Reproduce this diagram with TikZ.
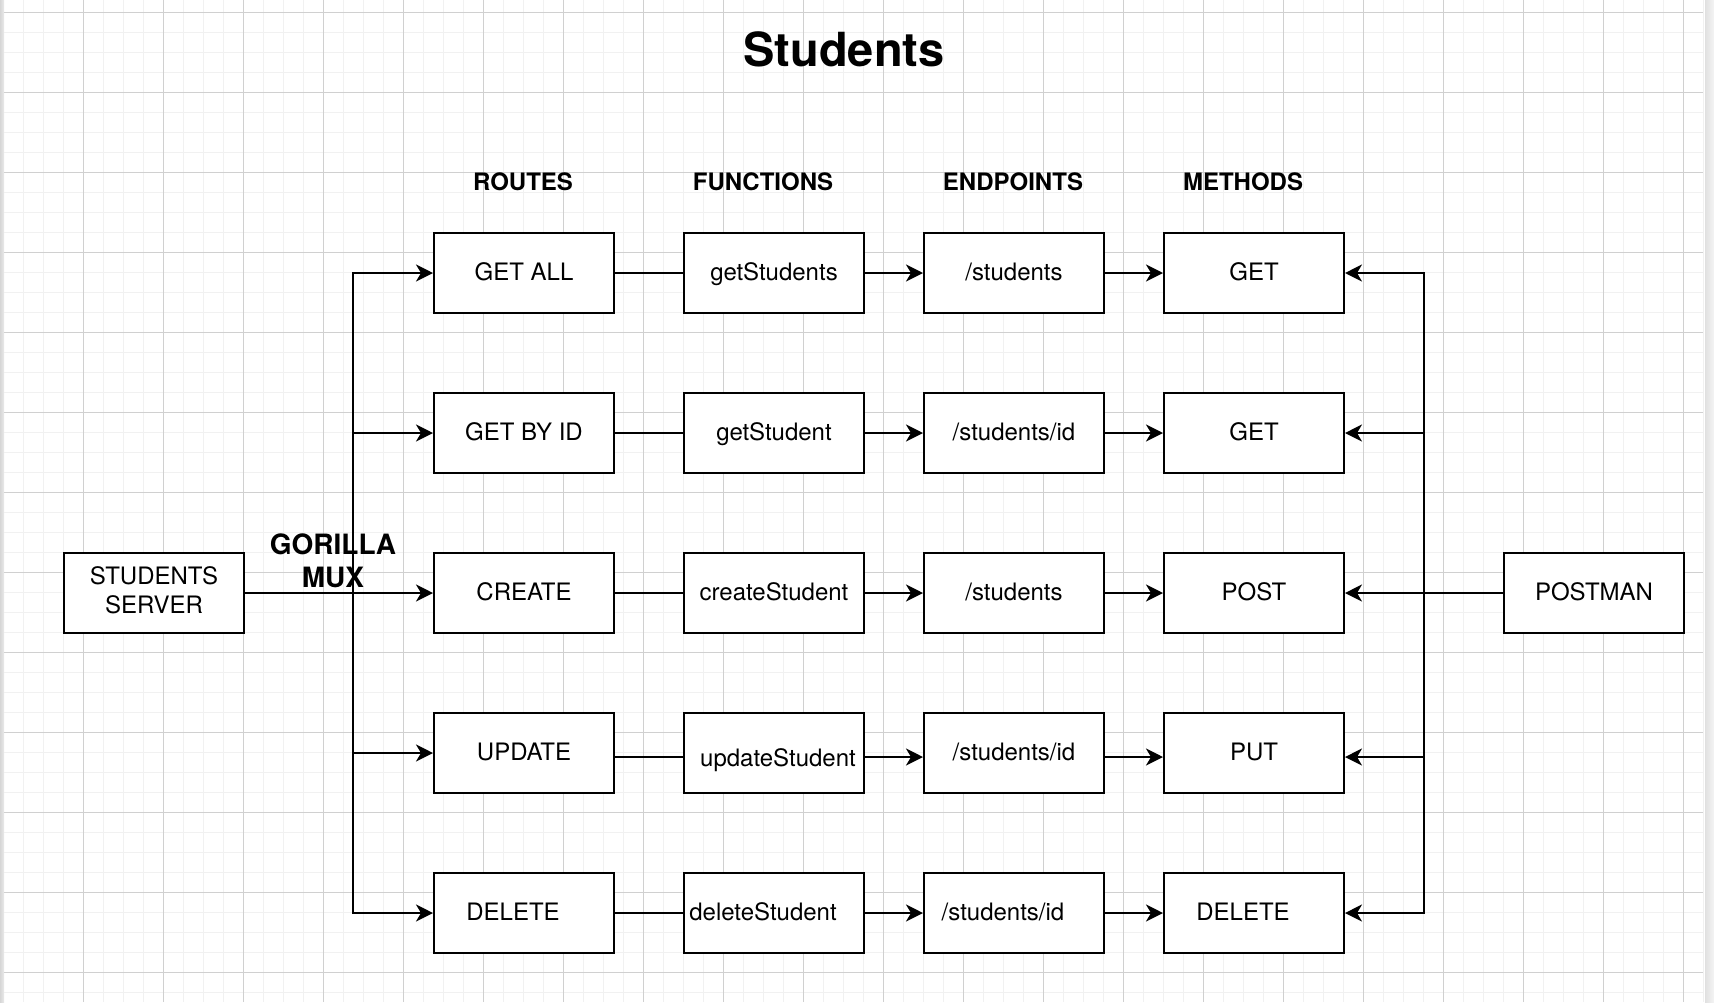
\documentclass[tikz,border=0pt]{standalone}
\usepackage{fontspec}
\setmainfont{TeX Gyre Heros}
\usetikzlibrary{arrows.meta,calc}
\definecolor{minorgrid}{HTML}{F1F1F1}
\definecolor{majorgrid}{HTML}{D0D0D0}
\begin{document}
\begin{tikzpicture}[x=0.5pt,y=-0.5pt,
  box/.style={draw, line width=1pt, fill=white, minimum width=90pt, minimum height=40pt,
    inner sep=0pt, font=\fontsize{12pt}{14.5pt}\selectfont, text height=8.6pt, text depth=1.5pt},
  twoline/.style={box, text height=8.6pt, text depth=17.3pt},
  hdr/.style={font=\bfseries\fontsize{12pt}{14.4pt}\selectfont, anchor=base, inner sep=0pt},
  ttl/.style={font=\bfseries\fontsize{23.5pt}{28pt}\selectfont, anchor=base, inner sep=0pt},
  gm/.style={font=\bfseries\fontsize{14pt}{16.5pt}\selectfont, anchor=base, inner sep=0pt},
  conn/.style={line width=1pt},
  arr/.style={line width=1pt, -{Stealth[length=8.5pt,width=8.5pt,inset=2.5pt]}},
  mingrid/.style={draw=minorgrid, line width=0.8pt},
  majgrid/.style={draw=majorgrid, line width=0.5pt}]
\useasboundingbox (0,0) rectangle (1714,1002);
% background and grid
\fill[white] (0,0) rectangle (1714,1002);
\fill[left color=black!16, right color=black!8] (0,0) rectangle (4,1002);
\fill[left color=black!12, right color=black!4] (1705,0) rectangle (1714,1002);
\foreach \k in {1,...,85} \draw[mingrid] ({3.3+20*\k},0) -- ({3.3+20*\k},1002);
\foreach \k in {0,...,49} \draw[mingrid] (4,{12.3+20*\k}) -- (1703,{12.3+20*\k});
\foreach \k in {1,...,21} \draw[majgrid] ({3.3+80*\k},0) -- ({3.3+80*\k},1002);
\foreach \k in {0,...,12} \draw[majgrid] (4,{12.3+80*\k}) -- (1703,{12.3+80*\k});
% titles
\node[ttl] (title) at (844,66) {Students};
\node[hdr] (hroutes) at (523,190) {ROUTES};
\node[hdr] (hfunc) at (763,190) {FUNCTIONS};
\node[hdr] (hend) at (1013,190) {ENDPOINTS};
\node[hdr] (hmeth) at (1243,190) {METHODS};
% nodes
\node[twoline] (srv) at (154,593) {\begin{tabular}[t]{@{}c@{}}STUDENTS\\SERVER\end{tabular}};
\node[box] (pm) at (1594,593) {POSTMAN};
\node[box] (r1) at (524,273) {GET ALL};
\node[box] (r2) at (524,433) {GET BY ID};
\node[box] (r3) at (524,593) {CREATE};
\node[box] (r4) at (524,753) {UPDATE};
\node[box] (r5) at (524,913) {DELETE\kern11pt};
\node[box] (f1) at (774,273) {getStudents};
\node[box] (f2) at (774,433) {getStudent};
\node[box] (f3) at (774,593) {createStudent};
\node[box] (f4) at (774,753) {\raisebox{-3pt}{\kern4pt updateStudent}};
\node[box] (f5) at (774,913) {deleteStudent\kern11pt};
\node[box] (e1) at (1014,273) {/students};
\node[box] (e2) at (1014,433) {/students/id};
\node[box] (e3) at (1014,593) {/students};
\node[box] (e4) at (1014,753) {/students/id};
\node[box] (e5) at (1014,913) {/students/id\kern11pt};
\node[box] (m1) at (1254,273) {GET};
\node[box] (m2) at (1254,433) {GET};
\node[box] (m3) at (1254,593) {POST};
\node[box] (m4) at (1254,753) {PUT};
\node[box] (m5) at (1254,913) {DELETE\kern11pt};
\node[gm] (gmux) at (333,554) {\begin{tabular}[t]{@{}c@{}}GORILLA\\MUX\end{tabular}};
% buses
\coordinate (busL) at (353,593);
\coordinate (busR) at (1424,593);
\draw[arr] (srv.east) -- (r3.west);
\foreach \i in {1,2,4,5} \draw[arr] (srv.east) -- (busL) |- (r\i.west);
\draw[arr] (pm.west) -- (m3.east);
\foreach \i in {1,2,5} \draw[arr] (pm.west) -- (busR) |- (m\i.east);
\draw[arr] (pm.west) -- (busR) |- ([yshift=-2pt]m4.east);
% rows
\foreach \i in {1,2,3,5} {
  \draw[conn] (r\i.east) -- (f\i.west);
  \draw[arr] (f\i.east) -- (e\i.west);
  \draw[arr] (e\i.east) -- (m\i.west);
}
\draw[conn] ([yshift=-2pt]r4.east) -- ([yshift=-2pt]f4.west);
\draw[arr] ([yshift=-2pt]f4.east) -- ([yshift=-2pt]e4.west);
\draw[arr] ([yshift=-2pt]e4.east) -- ([yshift=-2pt]m4.west);
\end{tikzpicture}
\end{document}
